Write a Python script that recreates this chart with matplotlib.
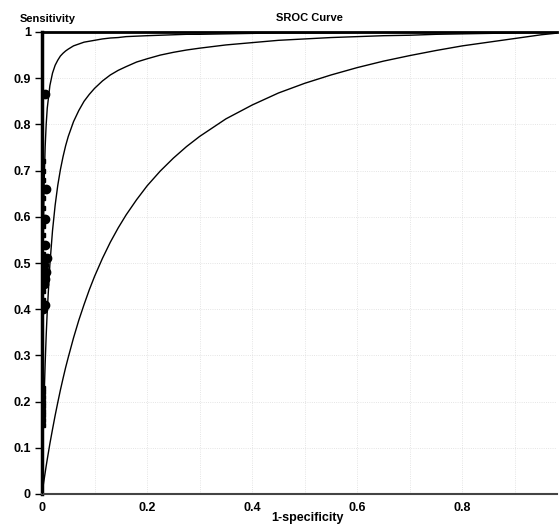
import numpy as np
import matplotlib
matplotlib.use('Agg')
import matplotlib.pyplot as plt

plt.rcParams['font.family'] = ['Liberation Sans', 'DejaVu Sans']

# SROC curves (1-specificity, sensitivity)
curve_fpr = [0, 0.0005, 0.001, 0.002, 0.003, 0.004, 0.006, 0.008, 0.01, 0.015, 0.02,
             0.025, 0.03, 0.035, 0.04, 0.045, 0.05, 0.06, 0.07, 0.08, 0.09, 0.1, 0.115,
             0.13, 0.145, 0.16, 0.18, 0.2, 0.225, 0.25, 0.275, 0.3, 0.35, 0.4, 0.45,
             0.5, 0.55, 0.6, 0.65, 0.7, 0.75, 0.8, 0.85, 0.9, 0.95, 1.0]
sens_upper = [0, .200, .334, .500, .601, .668, .751, .801, .835, .884, .911,
              .928, .939, .948, .954, .959, .963, .970, .974, .978, .980, .982, .985,
              .987, .988, .990, .991, .992, .993, .994, .995, .995, .996, .997, .998,
              .998, .998, .999, .999, .999, .999, .9995, .9996, .9998, .9999, 1.0]
sens_middle = [0, .032, .061, .115, .164, .207, .282, .344, .396, .497, .570,
               .625, .668, .702, .730, .754, .774, .806, .830, .850, .865, .878, .894,
               .907, .917, .925, .935, .942, .950, .956, .961, .965, .972, .977, .982,
               .985, .988, .990, .992, .993, .995, .996, .997, .998, .999, 1.0]
sens_lower = [0, .004, .008, .016, .024, .031, .046, .061, .075, .109, .140,
              .170, .198, .225, .250, .274, .296, .338, .376, .410, .442, .471, .510,
              .545, .576, .604, .637, .667, .699, .727, .752, .774, .812, .842, .868,
              .889, .907, .923, .937, .949, .960, .970, .978, .986, .994, 1.0]

# study points
study_fpr = [0.006, 0.007, 0.005, 0.006, 0.009, 0.003, 0.008, 0.005, 0.004, 0.006, 0.002]
study_sens = [0.865, 0.66, 0.595, 0.54, 0.51, 0.495, 0.48, 0.465, 0.455, 0.41, 0.40]

# studies sitting on fpr = 0 (they pile up into a thick bar)
zero_sens = [0.15, 0.16, 0.17, 0.18, 0.19, 0.20, 0.21, 0.22, 0.23,
             0.42, 0.44, 0.46, 0.48, 0.50, 0.52, 0.54, 0.56, 0.58, 0.60,
             0.62, 0.64, 0.66, 0.68, 0.70, 0.72]

fig = plt.figure(figsize=(5.59, 5.24), dpi=100)
ax = fig.add_axes([42 / 559, 1 - 494 / 524, 515 / 559, 462 / 524])

for s in [sens_upper, sens_middle, sens_lower]:
    ax.plot(curve_fpr, s, color='black', lw=1.0, zorder=3)

ax.plot([0.001] * len(zero_sens), zero_sens, 's', color='black', ms=3, zorder=4)
ax.plot(study_fpr, study_sens, 'o', color='black', ms=6, zorder=5)

ax.set_xlim(0, 0.98)
ax.set_ylim(0, 1)
ax.set_xticks([0, 0.2, 0.4, 0.6, 0.8])
ax.set_xticklabels(['0', '0.2', '0.4', '0.6', '0.8'])
ax.set_yticks(np.arange(0, 1.01, 0.1))
ax.set_yticklabels(['0', '0.1', '0.2', '0.3', '0.4', '0.5', '0.6', '0.7', '0.8', '0.9', '1'])
ax.set_xticks(np.arange(0.1, 0.99, 0.1), minor=True)

for lab in ax.get_xticklabels() + ax.get_yticklabels():
    lab.set_fontweight('bold')
    lab.set_fontsize(9)

ax.tick_params(axis='y', length=5, width=1, pad=3)
ax.tick_params(axis='x', which='both', length=0, pad=6)
ax.grid(True, which='both', color='#dcdcdc', ls=':', lw=0.6)

ax.spines['right'].set_visible(False)
ax.spines['left'].set_linewidth(2.5)
ax.spines['top'].set_linewidth(2)
ax.spines['bottom'].set_linewidth(1.5)
ax.spines['bottom'].set_color('#444444')

fig.text(20 / 559, 1 - 19 / 524, 'Sensitivity', fontsize=8, fontweight='bold',
         ha='left', va='center')
fig.text(309 / 559, 1 - 18 / 524, 'SROC Curve', fontsize=8, fontweight='bold',
         ha='center', va='center')
fig.text(307 / 559, 1 - 518 / 524, '1-specificity', fontsize=9, fontweight='bold',
         ha='center', va='center')

plt.savefig('out.png', dpi=100)
